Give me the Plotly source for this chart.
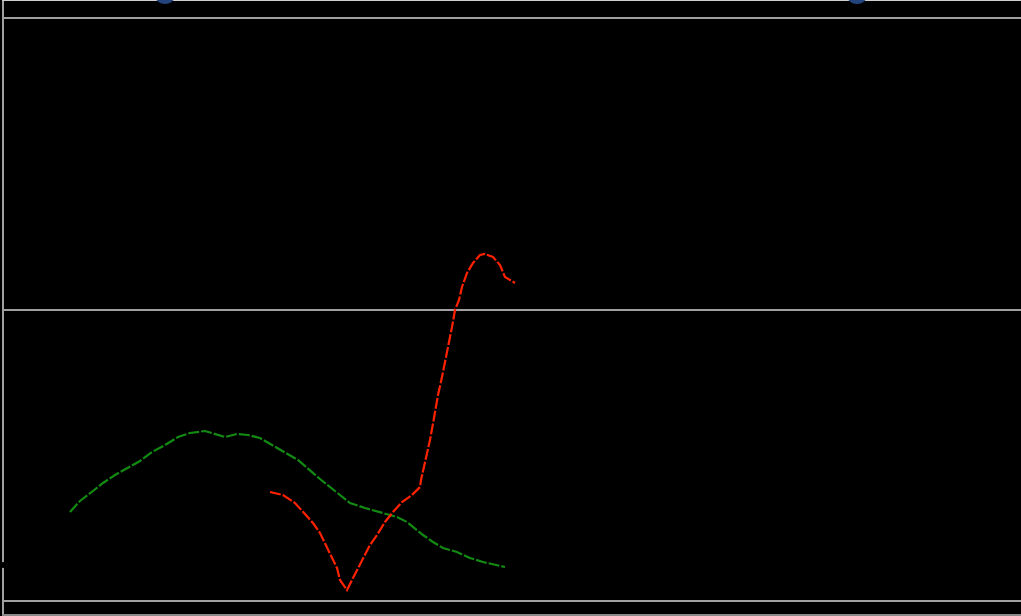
import plotly.graph_objects as go

# Values (x in plot units, y in pixel-like units converted below)
green_x = [66, 76, 89, 99, 111, 124, 136, 148, 161, 174, 186, 201, 211, 221, 233, 244, 256, 268, 281, 294,
           316, 326, 346, 361, 379, 393, 403, 419, 429, 439, 453, 466, 479, 493, 501]
green_y = [512, 501, 491, 483, 475, 468, 461, 452, 445, 437, 433, 431, 434, 437, 434, 435, 438, 445, 452, 460,
           479, 487, 503, 508, 513, 517, 522, 535, 542, 548, 552, 558, 562, 565, 567]

red_x = [266, 279, 291, 299, 309, 316, 323, 328, 333, 336, 343, 349, 356, 361, 366, 373, 381, 389, 398, 408,
         416, 417, 421, 426, 430, 434, 438, 443, 448, 451, 455, 458, 463, 469, 476, 481, 489, 496, 501, 511]
red_y = [492, 495, 503, 512, 523, 533, 547, 557, 568, 580, 590, 578, 565, 555, 545, 535, 522, 512, 502, 495,
         487, 480, 462, 440, 418, 395, 377, 353, 327, 310, 300, 287, 273, 263, 255, 254, 257, 265, 277, 283]

blue_x = [161, 853]
blue_y = [-7, -7]

dot_y = [565]

PX_PER_UNIT = 291.5
BASE = 601
Y_MIN = (BASE - 614) / PX_PER_UNIT
Y_MAX = (BASE - 1) / PX_PER_UNIT


def to_val(py):
    return [(BASE - v) / PX_PER_UNIT for v in py]


fig = go.Figure()
fig.add_trace(go.Scatter(x=green_x, y=to_val(green_y), mode="lines",
                         line=dict(color="#138a13", width=2.2, dash="11px,2px"),
                         showlegend=False, hoverinfo="skip"))
fig.add_trace(go.Scatter(x=red_x, y=to_val(red_y), mode="lines",
                         line=dict(color="#ff2200", width=2.2, dash="11px,2px"),
                         showlegend=False, hoverinfo="skip"))
fig.add_trace(go.Scatter(x=[None], y=[None], xaxis="x2", showlegend=False, hoverinfo="skip"))

# Partially visible markers above the plot top (outside axis range -> drawn as shapes)
for bx, by in zip(blue_x, to_val(blue_y)):
    fig.add_shape(type="circle", xref="x", yref="paper",
                  xsizemode="pixel", ysizemode="pixel",
                  xanchor=bx, yanchor=(by - Y_MIN) / (Y_MAX - Y_MIN),
                  x0=-11, x1=11, y0=-11, y1=11,
                  fillcolor="#23447c", line=dict(width=0), layer="above")

for dy in to_val(dot_y):
    fig.add_shape(type="circle", xref="paper", yref="y",
                  xsizemode="pixel", ysizemode="pixel",
                  xanchor=0, yanchor=dy,
                  x0=-4, x1=2, y0=-3, y1=3,
                  fillcolor="#000000", line=dict(width=0), layer="above")

fig.update_layout(
    width=1021, height=616,
    margin=dict(l=4, r=0, t=1, b=2),
    paper_bgcolor="#000000", plot_bgcolor="#000000",
    xaxis=dict(range=[0, 1017], showgrid=False, zeroline=False, showticklabels=False,
               ticks="", showline=True, linecolor="#8a8a8a", linewidth=2),
    xaxis2=dict(range=[0, 1017], overlaying="x", side="top", showgrid=False, zeroline=False,
                showticklabels=False, ticks="", showline=True, linecolor="#d0d0d0", linewidth=2),
    yaxis=dict(range=[Y_MIN, Y_MAX],
               tickvals=[0, 1, 2], showticklabels=False, ticks="",
               showgrid=True, gridcolor="#a0a0a0", gridwidth=1.5, zeroline=False,
               showline=True, linecolor="#a0a0a0", linewidth=2),
)

fig.write_html("out.html")
